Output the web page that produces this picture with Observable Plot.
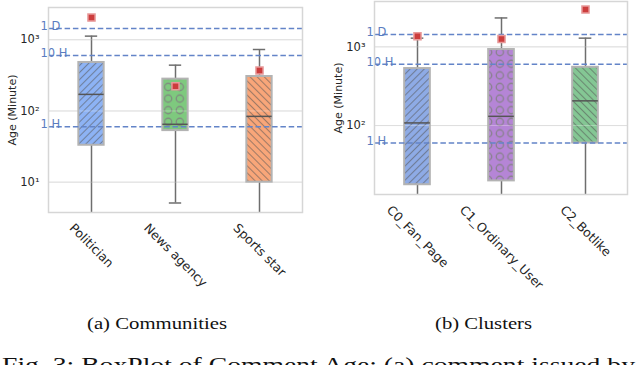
<!DOCTYPE html>
<html><head><meta charset="utf-8">
<script src="https://cdn.jsdelivr.net/npm/d3@7"></script>
<script src="https://cdn.jsdelivr.net/npm/@observablehq/plot@0.6"></script>
<style>
body{margin:0;background:#fff;}
#wrap{position:relative;width:640px;height:365px;overflow:hidden;background:#fff;}
#wrap > svg{position:absolute;top:0;}
</style></head><body><div id="wrap"></div>
<script>
// ---- data (minutes) ----
const communities = ["Politician", "News agency", "Sports star"];
const commWhiskerLow = [1, 5.1, 1];
const commQ1 = [33, 53, 10];
const commMedian = [171, 65, 84];
const commQ3 = [480, 280, 305];
const commWhiskerHigh = [1125, 440, 730];
const commMean = [2050, 222, 370];
const commColors = ["#8db3f5", "#7ec97e", "#f9a679"];

const clusters = ["C0_Fan_Page", "C1_Ordinary_User", "C2_Botlike"];
const clusWhiskerLow = [1, 1, 1];
const clusQ1 = [17.7, 19.8, 60];
const clusMedian = [108, 131, 206];
const clusQ3 = [530, 925, 550];
const clusWhiskerHigh = [1290, 2330, 1290];
const clusMean = [1365, 1260, 2980];
const clusColors = ["#8eabe6", "#b585d6", "#84c794"];

const refValues = [1440, 600, 60];
const refLabels = ["1 D", "10 H", "1 H"];
const hatches = ["fwd", "ring", "back"];
const yLabel = "Age (Minute)";

const FONT = "DejaVu Sans";
const XFS = 12.5;
const wrap = document.getElementById("wrap");

function panel(o) {
  const rows = o.cats.map((c, i) => ({
    cat: c, lo: o.lo[i], q1: o.q1[i], med: o.med[i], q3: o.q3[i], hi: o.hi[i],
    mean: o.mean[i], color: o.colors[i], hatch: `url(#${o.id}-${hatches[i]})`
  }));
  const refs = refValues.map((v, i) => ({v, label: refLabels[i]}));
  const bandW = (320 - o.marginLeft - o.marginRight) / o.cats.length;
  const inset = (bandW - 26) / 2;
  const capInset = (bandW - 13) / 2;
  const sup = {0: "⁰", 1: "¹", 2: "²", 3: "³", 4: "⁴"};
  const svg = Plot.plot({
    width: 320, height: 300,
    marginTop: o.marginTop, marginBottom: o.marginBottom,
    marginLeft: o.marginLeft, marginRight: o.marginRight,
    style: {fontFamily: FONT, fontSize: "11px", color: "#262626", background: "transparent", overflow: "visible"},
    x: {type: "band", domain: o.cats, padding: 0, axis: null},
    y: {type: "log", domain: o.yDomain, axis: null},
    color: {type: "identity"},
    marks: [
      Plot.gridY(o.yTicks, {stroke: "#d0d0d0", strokeOpacity: 1, strokeWidth: 1}),
      Plot.axisY(o.yTicks, {tickSize: 0, tickPadding: 9, fontSize: 11.5, fontFamily: FONT, label: null,
        tickFormat: d => "10" + sup[Math.round(Math.log10(d))]}),
      Plot.ruleX(rows, {x: "cat", y1: "lo", y2: "q1", stroke: "#6e6e6e", strokeWidth: 1.5, clip: true}),
      Plot.ruleX(rows, {x: "cat", y1: "q3", y2: "hi", stroke: "#6e6e6e", strokeWidth: 1.5, clip: true}),
      Plot.tickY(rows, {x: "cat", y: "hi", stroke: "#6e6e6e", strokeWidth: 1.5, insetLeft: capInset, insetRight: capInset, clip: true}),
      Plot.tickY(rows, {x: "cat", y: "lo", stroke: "#6e6e6e", strokeWidth: 1.5, insetLeft: capInset, insetRight: capInset, clip: true}),
      Plot.barY(rows, {x: "cat", y1: "q1", y2: "q3", fill: "color", insetLeft: inset, insetRight: inset, clip: true}),
      Plot.barY(rows, {x: "cat", y1: "q1", y2: "q3", fill: "hatch", insetLeft: inset, insetRight: inset, clip: true}),
      Plot.gridY(o.yTicks, {stroke: "#ffffff", strokeOpacity: 0.3, strokeWidth: 1}),
      Plot.barY(rows, {x: "cat", y1: "q1", y2: "q3", fill: "none", stroke: "#b3b3b3", strokeWidth: 2, insetLeft: inset, insetRight: inset, clip: true}),
      Plot.tickY(rows, {x: "cat", y: "med", stroke: "#555555", strokeWidth: 1.5, insetLeft: inset, insetRight: inset}),
      Plot.ruleY(refs, {y: "v", stroke: "#6384c8", strokeWidth: 1.5, strokeDasharray: "5.5,2.8"}),
      Plot.text(refs, {y: "v", text: "label", frameAnchor: "left", dx: -8, dy: 1.5, textAnchor: "start", lineAnchor: "bottom", fill: "#5a7cc0", fontSize: 11.5, fontFamily: FONT}),
      Plot.dot(rows, {x: "cat", y: "mean", symbol: "square", r: 4, fill: "#cc3d3d", stroke: "#e89a9a", strokeWidth: 1.5}),
      Plot.frame({stroke: "#d6d6d6", strokeWidth: 1.5}),
      Plot.text([yLabel], {text: d => d, frameAnchor: "left", rotate: -90, dx: -36, textAnchor: "middle", lineAnchor: "middle", fontSize: 11, fontFamily: FONT, fill: "#262626"}),
      Plot.text(rows, {x: "cat", text: "cat", frameAnchor: "bottom", rotate: 45, textAnchor: "middle", lineAnchor: "middle", fontSize: XFS, fontFamily: FONT, fill: "#262626"})
    ]
  });
  // hatch patterns
  const defs = d3.select(svg).insert("defs", ":first-child");
  defs.html(`
    <pattern id="${o.id}-fwd" patternUnits="userSpaceOnUse" width="5" height="5" patternTransform="rotate(45)">
      <line x1="2.5" y1="-1" x2="2.5" y2="6" stroke="#555" stroke-opacity="0.55" stroke-width="1.1"/></pattern>
    <pattern id="${o.id}-back" patternUnits="userSpaceOnUse" width="5" height="5" patternTransform="rotate(-45)">
      <line x1="2.5" y1="-1" x2="2.5" y2="6" stroke="#555" stroke-opacity="0.55" stroke-width="1.1"/></pattern>
    <pattern id="${o.id}-ring" patternUnits="userSpaceOnUse" width="11.6" height="11.6">
      <circle cx="5.8" cy="5.8" r="3.6" fill="none" stroke="#808080" stroke-opacity="0.85" stroke-width="1.3"/></pattern>`);
  svg.style.left = o.left + "px";
  wrap.appendChild(svg);
  // place rotated x labels like matplotlib (bbox centered under tick, top aligned below frame)
  d3.select(svg).selectAll("text")
    .filter(function() { return o.cats.includes(this.textContent); })
    .each(function() {
      const L = this.getComputedTextLength();
      const old = this.getAttribute("transform") || "";
      this.setAttribute("transform", `translate(0,${0.354 * (L + XFS) + 9}) ` + old);
    });
}

panel({id: "pa", left: 0, cats: communities, lo: commWhiskerLow, q1: commQ1, med: commMedian, q3: commQ3,
  hi: commWhiskerHigh, mean: commMean, colors: commColors, yDomain: [3.75, 2840], yTicks: [10, 100, 1000],
  marginTop: 7, marginBottom: 88, marginLeft: 48, marginRight: 18});
panel({id: "pb", left: 320, cats: clusters, lo: clusWhiskerLow, q1: clusQ1, med: clusMedian, q3: clusQ3,
  hi: clusWhiskerHigh, mean: clusMean, colors: clusColors, yDomain: [13.3, 3770], yTicks: [100, 1000],
  marginTop: 1, marginBottom: 106, marginLeft: 54, marginRight: 13});

// captions
const cap = d3.create("svg").attr("width", 640).attr("height", 365).style("left", "0px");
const capText = (t, x, y, size, len) => cap.append("text").attr("x", x).attr("y", y)
  .attr("font-family", "Liberation Serif").attr("font-size", size).attr("fill", "#111")
  .attr("textLength", len).attr("lengthAdjust", "spacingAndGlyphs").text(t);
capText("(a) Communities", 87, 329, 16.6, 140);
capText("(b) Clusters", 435, 329, 16.6, 97);
capText("Fig. 3: BoxPlot of Comment Age: (a) comment issued by", 2, 372, 21.7, 633);
wrap.insertBefore(cap.node(), wrap.firstChild);
</script></body></html>
